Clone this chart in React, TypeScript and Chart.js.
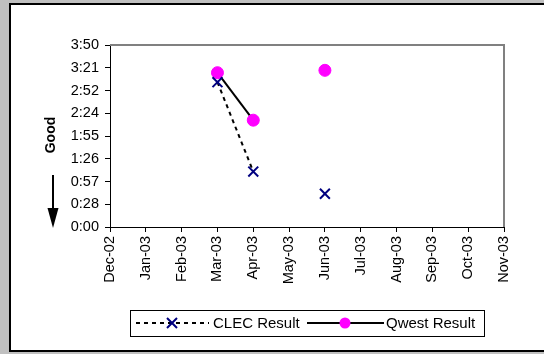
import React, { useEffect, useRef } from "react";
import { Chart, registerables } from "chart.js";

Chart.register(...registerables);

const months = ["Dec-02", "Jan-03", "Feb-03", "Mar-03", "Apr-03", "May-03", "Jun-03", "Jul-03", "Aug-03", "Sep-03", "Oct-03", "Nov-03"];
// values in minutes
const clecResult: (number | null)[] = [null, null, null, 183, 70, null, 42, null, null, null, null, null];
const qwestResult: (number | null)[] = [null, null, null, 195, 135, null, 198, null, null, null, null, null];
const yTickValues = [0, 28.75, 57.5, 86.25, 115, 143.75, 172.5, 201.25, 230];
const yTickLabels = ["0:00", "0:28", "0:57", "1:26", "1:55", "2:24", "2:52", "3:21", "3:50"];

const FONT = "'Liberation Sans', Arial, sans-serif";

const decorPlugin = {
  id: "decor",
  beforeDraw(chart: any) {
    const ctx = chart.ctx;
    ctx.save();
    ctx.fillStyle = "#c0c0c0";
    ctx.fillRect(0, 0, chart.width, chart.height);
    ctx.fillStyle = "#ffffff";
    ctx.fillRect(9, 3, chart.width, 349);
    ctx.strokeStyle = "#000";
    ctx.lineWidth = 2;
    ctx.strokeRect(10, 4, chart.width, 347);
    ctx.restore();
  },
  afterDraw(chart: any) {
    const ctx = chart.ctx;
    const a = chart.chartArea;
    ctx.save();
    // gray top/right plot border
    ctx.strokeStyle = "#808080";
    ctx.lineWidth = 2;
    ctx.beginPath();
    ctx.moveTo(a.left, a.top);
    ctx.lineTo(a.right, a.top);
    ctx.lineTo(a.right, a.bottom);
    ctx.stroke();

    // "Good" label
    ctx.fillStyle = "#000";
    ctx.font = `bold 14px ${FONT}`;
    ctx.textAlign = "center";
    ctx.textBaseline = "middle";
    ctx.translate(51, 135);
    ctx.rotate(-Math.PI / 2);
    ctx.fillText("Good", 0, 0);
    ctx.setTransform(1, 0, 0, 1, 0, 0);

    // arrow
    ctx.strokeStyle = "#000";
    ctx.lineWidth = 2;
    ctx.beginPath();
    ctx.moveTo(53, 175);
    ctx.lineTo(53, 210);
    ctx.stroke();
    ctx.beginPath();
    ctx.moveTo(47.5, 208);
    ctx.lineTo(58.5, 208);
    ctx.lineTo(53, 228);
    ctx.closePath();
    ctx.fill();

    // legend
    const ly = 323;
    ctx.strokeStyle = "#000";
    ctx.lineWidth = 1;
    ctx.strokeRect(130.5, 310.5, 354, 26);
    // CLEC
    ctx.lineWidth = 2;
    ctx.setLineDash([4, 4]);
    ctx.beginPath();
    ctx.moveTo(136, ly);
    ctx.lineTo(209, ly);
    ctx.stroke();
    ctx.setLineDash([]);
    ctx.strokeStyle = "#000080";
    ctx.lineWidth = 2;
    ctx.beginPath();
    ctx.moveTo(167, ly - 5);
    ctx.lineTo(177, ly + 5);
    ctx.moveTo(177, ly - 5);
    ctx.lineTo(167, ly + 5);
    ctx.stroke();
    ctx.fillStyle = "#000";
    ctx.font = `15px ${FONT}`;
    ctx.textAlign = "left";
    ctx.textBaseline = "middle";
    ctx.fillText("CLEC Result", 213, ly + 1);
    // Qwest
    ctx.strokeStyle = "#000";
    ctx.lineWidth = 2;
    ctx.beginPath();
    ctx.moveTo(307, ly);
    ctx.lineTo(384, ly);
    ctx.stroke();
    ctx.fillStyle = "#ff00ff";
    ctx.beginPath();
    ctx.arc(345, ly, 5.5, 0, Math.PI * 2);
    ctx.fill();
    ctx.fillStyle = "#000";
    ctx.fillText("Qwest Result", 386, ly + 1);
    ctx.restore();
  },
};

export default function App() {
  const ref = useRef<HTMLCanvasElement>(null);

  useEffect(() => {
    if (!ref.current) return;
    const chart = new Chart(ref.current, {
      type: "line",
      data: {
        labels: months,
        datasets: [
          {
            label: "CLEC Result",
            data: clecResult,
            borderColor: "#000",
            borderWidth: 2,
            borderDash: [4, 4],
            pointStyle: "crossRot",
            pointRadius: 7,
            pointBorderColor: "#000080",
            pointBackgroundColor: "#000080",
            pointBorderWidth: 2,
            spanGaps: false,
            tension: 0,
          },
          {
            label: "Qwest Result",
            data: qwestResult,
            borderColor: "#000",
            borderWidth: 2,
            pointStyle: "circle",
            pointRadius: 6,
            pointBorderColor: "#ff00ff",
            pointBackgroundColor: "#ff00ff",
            pointBorderWidth: 1,
            spanGaps: false,
            tension: 0,
          },
        ],
      },
      options: {
        responsive: false,
        devicePixelRatio: 1,
        animation: false,
        layout: { padding: { top: 45, right: 40, left: 0, bottom: 0 } },
        plugins: { legend: { display: false }, tooltip: { enabled: false } },
        scales: {
          x: {
            type: "category",
            offset: false,
            grid: { display: true, drawOnChartArea: false, drawTicks: true, tickLength: 5, color: "#000", offset: false },
            border: { display: true, color: "#000", width: 1 },
            ticks: {
              autoSkip: false,
              maxRotation: 90,
              minRotation: 90,
              padding: 4,
              color: "#000",
              font: { family: FONT, size: 14.5 },
            },
            afterFit: (s: any) => {
              s.height = 127;
            },
          },
          y: {
            type: "linear",
            min: 0,
            max: 230,
            afterBuildTicks: (s: any) => {
              s.ticks = yTickValues.map((v) => ({ value: v }));
            },
            grid: { display: true, drawOnChartArea: false, drawTicks: true, tickLength: 5, color: "#000" },
            border: { display: true, color: "#000", width: 1 },
            ticks: {
              padding: 6,
              color: "#000",
              font: { family: FONT, size: 14.5 },
              callback: (_v: any, i: number) => yTickLabels[i],
            },
            afterFit: (s: any) => {
              s.width = 110;
            },
          },
        },
      },
      plugins: [decorPlugin],
    });
    return () => chart.destroy();
  }, []);

  return (
    <div style={{ position: "fixed", left: 0, top: 0, width: 544, height: 354 }}>
      <canvas ref={ref} width={544} height={354} style={{ display: "block" }} />
    </div>
  );
}
